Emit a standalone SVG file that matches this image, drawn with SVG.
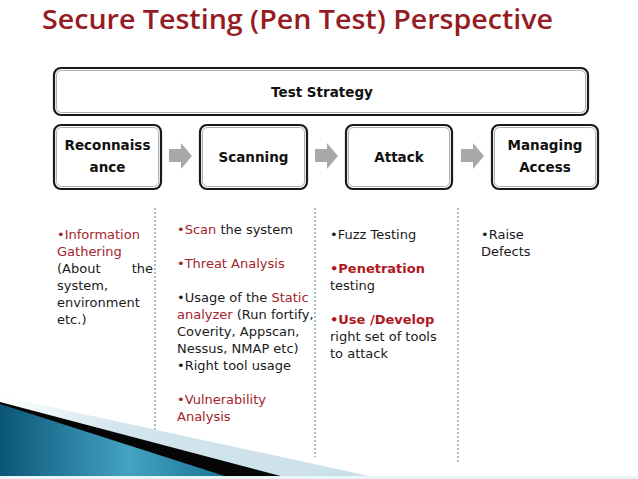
<svg xmlns="http://www.w3.org/2000/svg" width="638" height="479" viewBox="0 0 638 479">
<style>
.box{fill:#fff;stroke:#1a1a1a;stroke-width:2.2}
.inner{fill:none;stroke:#9a9a9a;stroke-width:0.8}
.bt{font-family:"DejaVu Sans","Liberation Sans",sans-serif;font-weight:bold;font-size:13.5px;fill:#111;text-anchor:middle}
.tx{font-family:"DejaVu Sans","Liberation Sans",sans-serif;font-size:13px;fill:#1a1a1a}
.r{fill:#a3232a}
.rb{fill:#b0181f;font-weight:bold}
.arr{fill:#a8a8a8}
.dash{stroke:#3f7f9c;stroke-width:1;stroke-dasharray:2 2;fill:none}
</style>
<defs>
<linearGradient id="blue" x1="0" y1="0" x2="1" y2="0">
<stop offset="0" stop-color="#0b5676"/>
<stop offset="0.55" stop-color="#45a2c3"/>
<stop offset="1" stop-color="#16708f"/>
</linearGradient>
<linearGradient id="lb" x1="0" y1="0" x2="1" y2="0">
<stop offset="0" stop-color="#ffffff"/>
<stop offset="0.3" stop-color="#d3e6ee"/>
<stop offset="1" stop-color="#c9dfe9"/>
</linearGradient>
</defs>
<rect width="638" height="479" fill="#fff"/>
<text x="42" y="29" font-family="'Open Sans','DejaVu Sans',sans-serif" font-weight="600" font-size="27" fill="#951c22" textLength="511" lengthAdjust="spacingAndGlyphs">Secure Testing (Pen Test) Perspective</text>

<g id="connectors">
<polygon class="arr" points="169,149 181,149 181,143 192,156 181,169 181,162 169,162"/>
<polygon class="arr" points="315,149 327,149 327,143 338,156 327,169 327,162 315,162"/>
<polygon class="arr" points="461,149 473,149 473,143 484,156 473,169 473,162 461,162"/>
<line class="dash" x1="155" y1="208" x2="155" y2="455"/>
<line class="dash" x1="315" y1="208" x2="315" y2="457"/>
<line class="dash" x1="458" y1="208" x2="458" y2="462"/>
</g>

<g id="test-strategy">
<rect class="box" x="54" y="68" width="534" height="47" rx="7"/>
<rect class="inner" x="56.5" y="70.5" width="529" height="42" rx="5"/>
<text class="bt" x="322" y="97">Test Strategy</text>
</g>
<g id="reconnaissance">
<rect class="box" x="54" y="125" width="107" height="64" rx="7"/>
<rect class="inner" x="56.5" y="127.5" width="102" height="59" rx="5"/>
<text class="bt" x="107.5" y="150">Reconnaiss</text>
<text class="bt" x="107.5" y="172">ance</text>
</g>
<g id="scanning">
<rect class="box" x="200" y="125" width="107" height="64" rx="7"/>
<rect class="inner" x="202.5" y="127.5" width="102" height="59" rx="5"/>
<text class="bt" x="253.5" y="162">Scanning</text>
</g>
<g id="attack">
<rect class="box" x="346" y="125" width="106" height="64" rx="7"/>
<rect class="inner" x="348.5" y="127.5" width="101" height="59" rx="5"/>
<text class="bt" x="399" y="162">Attack</text>
</g>
<g id="managing-access">
<rect class="box" x="492" y="125" width="106" height="64" rx="7"/>
<rect class="inner" x="494.5" y="127.5" width="101" height="59" rx="5"/>
<text class="bt" x="545" y="150">Managing</text>
<text class="bt" x="545" y="172">Access</text>
</g>

<g id="col-recon" class="tx">
<text x="57" y="239" class="tx r">•Information</text>
<text x="57" y="256" class="tx r">Gathering</text>
<text x="57" y="273" class="tx">(About</text>
<text x="153" y="273" class="tx" text-anchor="end">the</text>
<text x="57" y="290" class="tx">system,</text>
<text x="57" y="307" class="tx">environment</text>
<text x="57" y="324" class="tx">etc.)</text>
</g>
<g id="col-scan">
<text x="177" y="234" class="tx"><tspan class="r">•Scan</tspan> the system</text>
<text x="177" y="268" class="tx r">•Threat Analysis</text>
<text x="177" y="302" class="tx">•Usage of the <tspan class="r">Static</tspan></text>
<text x="177" y="319" class="tx"><tspan class="r">analyzer</tspan> (Run fortify,</text>
<text x="177" y="336" class="tx">Coverity, Appscan,</text>
<text x="177" y="353" class="tx">Nessus, NMAP etc)</text>
<text x="177" y="370" class="tx">•Right tool usage</text>
<text x="177" y="404" class="tx r">•Vulnerability</text>
<text x="177" y="421" class="tx r">Analysis</text>
</g>
<g id="col-attack">
<text x="330" y="239" class="tx">•Fuzz Testing</text>
<text x="330" y="273" class="tx rb">•Penetration</text>
<text x="330" y="290" class="tx">testing</text>
<text x="330" y="324" class="tx rb">•Use /Develop</text>
<text x="330" y="341" class="tx">right set of tools</text>
<text x="330" y="358" class="tx">to attack</text>
</g>
<g id="col-managing">
<text x="481" y="239" class="tx">•Raise</text>
<text x="481" y="256" class="tx">Defects</text>
</g>

<g id="corner-decoration">
<polygon points="0,396 383,479 0,479" fill="url(#lb)"/>
<polygon points="0,402 292,479 0,479" fill="#050505"/>
<polygon points="0,404 234,479 0,479" fill="url(#blue)"/>
<rect x="0" y="476" width="638" height="3" fill="#e8f4f8"/>
</g>
</svg>
